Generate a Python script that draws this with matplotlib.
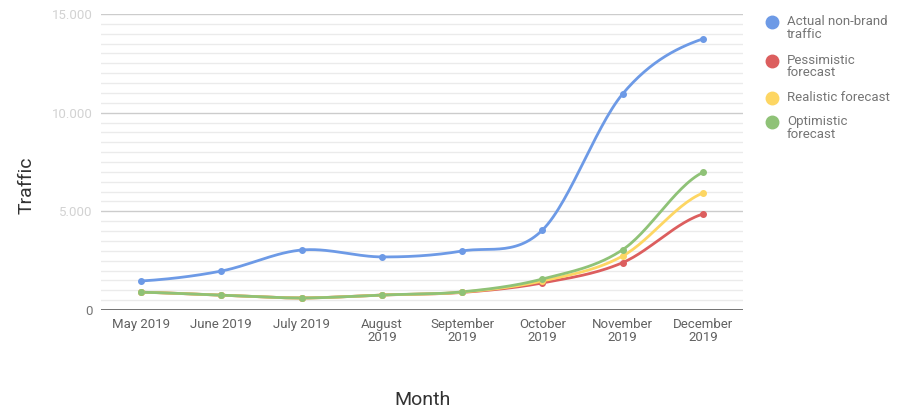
import numpy as np
import matplotlib.pyplot as plt
from matplotlib.lines import Line2D

plt.rcParams['font.family'] = ['Roboto', 'DejaVu Sans']

# Data
months = ["May 2019", "June 2019", "July 2019", "August\n2019", "September\n2019",
          "October\n2019", "November\n2019", "December\n2019"]
actual = [1470, 1975, 3040, 2690, 2990, 4050, 10950, 13740]
pessimistic = [900, 750, 610, 760, 890, 1370, 2400, 4860]
realistic = [900, 750, 610, 760, 905, 1470, 2735, 5925]
optimistic = [900, 750, 610, 760, 920, 1570, 3055, 6975]

names = ["Actual non-brand\ntraffic", "Pessimistic\nforecast", "Realistic forecast", "Optimistic\nforecast"]
colors = ["#6d9ae6", "#dc5e5e", "#fdd663", "#8fc277"]
series = [actual, pessimistic, realistic, optimistic]


def smooth(y, n=30, t=0.5):
    # cubic hermite through points, catmull-rom style tangents
    y = np.asarray(y, float)
    x = np.arange(len(y), dtype=float)
    m = np.zeros_like(y)
    m[1:-1] = (y[2:] - y[:-2]) / 2 * (2 * t)
    m[0] = (y[1] - y[0]) * t
    m[-1] = (y[-1] - y[-2]) * t
    xs, ys = [], []
    for i in range(len(y) - 1):
        s = np.linspace(0, 1, n, endpoint=False)
        h00 = 2 * s**3 - 3 * s**2 + 1
        h10 = s**3 - 2 * s**2 + s
        h01 = -2 * s**3 + 3 * s**2
        h11 = s**3 - s**2
        xs.append(x[i] + s)
        ys.append(h00 * y[i] + h10 * m[i] + h01 * y[i + 1] + h11 * m[i + 1])
    xs.append([x[-1]])
    ys.append([y[-1]])
    return np.concatenate(xs), np.concatenate(ys)


fig = plt.figure(figsize=(9, 4.15), dpi=100)
ax = fig.add_axes([101 / 900, 1 - 310 / 415, 642 / 900, 296 / 415])

# grid
for v in np.arange(500, 15001, 500):
    major = v % 5000 == 0
    ax.axhline(v, color="#cccccc" if major else "#ebebeb", lw=1.0, zorder=0)
ax.axhline(0, color="#666666", lw=2, zorder=3)

x = np.arange(len(months))
for vals, c in zip(series, colors):
    xs, ys = smooth(vals)
    ax.plot(xs, ys, color=c, lw=2, zorder=4, solid_capstyle="round")
    ax.plot(x, vals, "o", color=c, ms=4, zorder=5)

ax.set_xlim(-0.5, 7.5)
ax.set_ylim(0, 15000)
ax.set_xticks(x)
ax.set_xticklabels(months, color="#616161", fontsize=9.5, linespacing=0.95)
ax.set_yticks([0, 5000, 10000, 15000])
ax.set_yticklabels(["0", "5.000", "10.000", "15.000"], fontsize=9.5)
for lab in ax.get_yticklabels()[1:]:
    lab.set_color("#d2d2d2")
ax.get_yticklabels()[0].set_color("#757575")
ax.tick_params(length=0, pad=6)
ax.tick_params(axis="x", pad=6)
for s in ax.spines.values():
    s.set_visible(False)

# axis titles
fig.text(422 / 900, 1 - 400 / 415, "Month", fontsize=14, color="#333333",
         ha="center", va="center")
fig.text(27 / 900, 1 - 185 / 415, "Traffic", fontsize=14, color="#333333",
         ha="center", va="center", rotation=90)

# legend
leg_y = [22, 61, 98, 122]
for yy, name, c in zip(leg_y, names, colors):
    fig.add_artist(Line2D([772 / 900], [1 - yy / 415], marker="o", ms=9, color=c,
                          transform=fig.transFigure, linestyle="none"))
    fig.text(787 / 900, 1 - (yy - 7) / 415, name, fontsize=9.5, color="#757575",
             va="top", ha="left", linespacing=0.95)

fig.savefig("out.png", dpi=100)
